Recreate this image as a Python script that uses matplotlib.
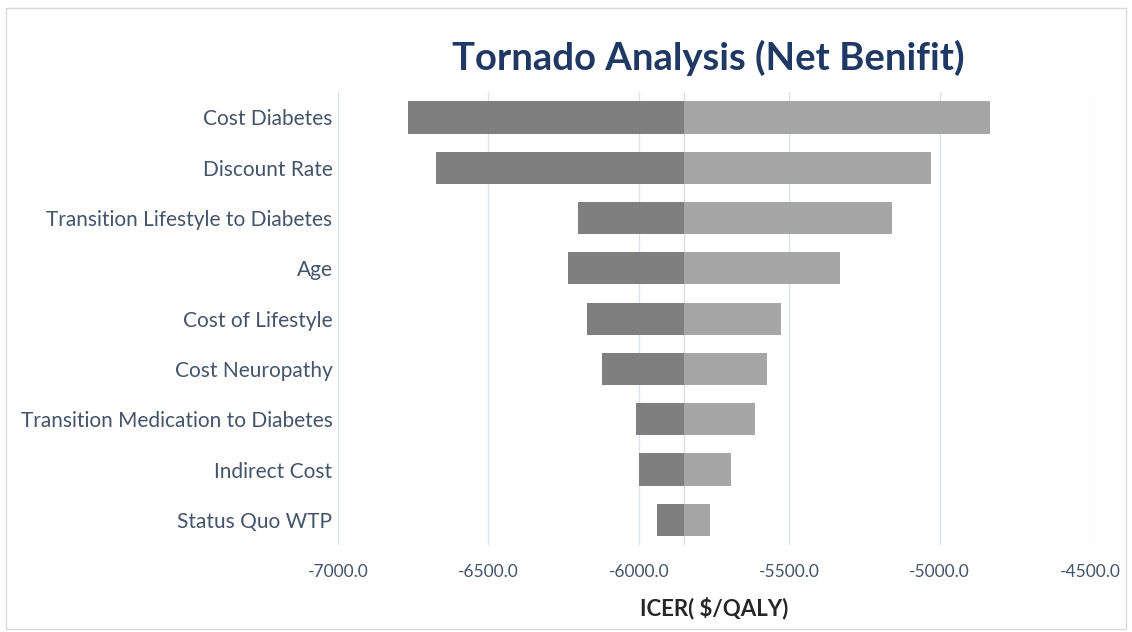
import matplotlib
matplotlib.use("Agg")
import matplotlib.pyplot as plt
from matplotlib.patches import Rectangle

categories = ["Cost Diabetes", "Discount Rate", "Transition Lifestyle to Diabetes", "Age",
              "Cost of Lifestyle", "Cost Neuropathy", "Transition Medication to Diabetes",
              "Indirect Cost", "Status Quo WTP"]
base_value = -5850
low_values = [-6767, -6673, -6203, -6237, -6173, -6123, -6010, -6000, -5940]
high_values = [-4833, -5030, -5157, -5333, -5527, -5573, -5613, -5693, -5763]
xticks = [-7000, -6500, -6000, -5500, -5000, -4500]
xtick_labels = ["-7000.0", "-6500.0", "-6000.0", "-5500.0", "-5000.0", "-4500.0"]

plt.rcParams['font.family'] = ['Lato', 'DejaVu Sans']

fig = plt.figure(figsize=(11.32, 6.32), dpi=100)
ax = fig.add_axes([0.2986, 0.1377, 0.6644, 0.7163])

ypos = list(range(len(categories)))
ax.barh(ypos, [l - base_value for l in low_values], left=base_value, height=0.64,
        color="#7f7f7f", zorder=3)
ax.barh(ypos, [h - base_value for h in high_values], left=base_value, height=0.64,
        color="#a6a6a6", zorder=3)
ax.axvline(base_value, color="#d9dce6", lw=1.0, zorder=2)

ax.set_xlim(-7000, -4500)
ax.set_ylim(len(categories) - 0.5, -0.5)
ax.set_yticks(ypos)
ax.set_yticklabels(categories, fontsize=15, color="#44546a")
ax.set_xticks(xticks)
ax.set_xticklabels(xtick_labels, fontsize=12.5, color="#44546a")
ax.tick_params(length=0)
ax.tick_params(axis='y', pad=4)
ax.tick_params(axis='x', pad=14)
ax.grid(axis='x', color="#dde1ec", lw=1.0, zorder=0)
for s in ax.spines.values():
    s.set_visible(False)

ax.set_xlabel("ICER( $/QALY)", fontsize=16, fontweight="bold", color="#262626", labelpad=12)
fig.text(0.6255, 0.908, "Tornado Analysis (Net Benifit)", fontsize=27.5, fontweight="bold",
         color="#1f3864", ha="center", va="center")

fig.patches.append(Rectangle((0.005, 0.005), 0.99, 0.982, transform=fig.transFigure,
                             fill=False, edgecolor="#d9d9d9", lw=1.0))

fig.savefig("out.png", dpi=100, facecolor="white")
